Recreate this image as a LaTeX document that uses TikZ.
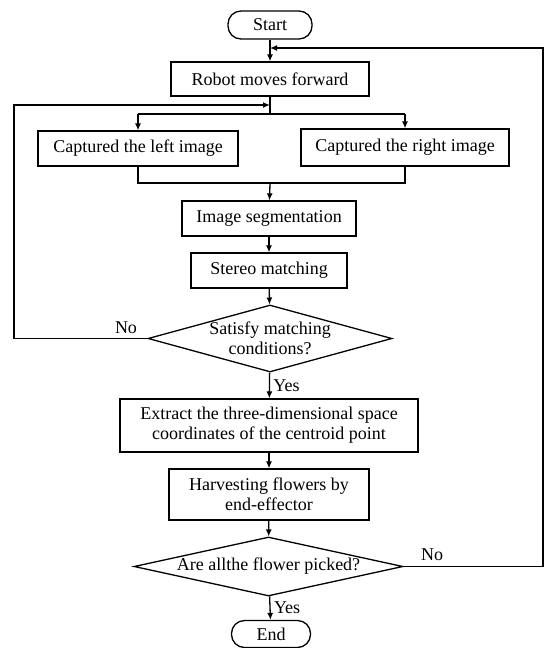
\documentclass[tikz,border=0pt]{standalone}
\usepackage{fontspec}
\setmainfont{Liberation Serif}
\usetikzlibrary{arrows.meta,shapes.geometric}

\tikzset{
    every node/.style={font=\fontsize{18}{20}\selectfont},
    stepbox/.style={draw, line width=1.3pt, rectangle, align=center, inner sep=2pt},
    termbox/.style={draw, line width=1.3pt, rectangle, rounded corners=13pt, minimum width=80pt, minimum height=27pt, inner sep=0pt},
    decision/.style={draw, line width=1.3pt, diamond, inner sep=0pt},
    flow/.style={line width=1.3pt, -{Latex[length=7pt,width=6pt]}},
    wire/.style={line width=1.3pt}
}

\begin{document}
\begin{tikzpicture}[x=1pt, y=-1pt]
    \useasboundingbox (0,0) rectangle (545,648);

    \node[termbox, minimum width=84pt, minimum height=28pt] (start) at (270,25) {Start};
    \node[stepbox, minimum width=198pt, minimum height=34pt] (robot) at (270,79) {Robot moves forward};
    \node[stepbox, minimum width=200pt, minimum height=35pt] (left) at (138,148.5) {Captured the left image};
    \node[stepbox, minimum width=208pt, minimum height=37pt] (right) at (405,147.5) {Captured the right image};
    \node[stepbox, minimum width=174pt, minimum height=35pt] (seg) at (269,218.5) {Image segmentation};
    \node[stepbox, minimum width=156pt, minimum height=35pt] (stereo) at (269,270.5) {Stereo matching};
    \node[decision, minimum width=244pt, minimum height=67pt,
        label={[align=center]center:Satisfy matching\\conditions?}] (match) at (270,338.5) {};
    \node[stepbox, minimum width=298pt, minimum height=53pt] (extract) at (269,425.5)
        {Extract the three-dimensional space\\coordinates of the centroid point};
    \node[stepbox, minimum width=200pt, minimum height=51pt] (harvest) at (269,494.5)
        {Harvesting flowers by\\end-effector};
    \node[decision, minimum width=269pt, minimum height=59pt,
        label={center:Are allthe flower picked?}] (picked) at (268.5,566.5) {};
    \node[termbox, minimum width=79pt] (end) at (271,634) {End};

    \coordinate (top) at (270,48);
    \coordinate (back) at (270,105);
    \coordinate (split) at (270,114);
    \coordinate (merge) at (270,183);

    \draw[wire] (start) -- (top);
    \draw[flow] (top) -- (robot);
    \draw[flow] (picked.east) -- (543,566.5) |- (top);
    \node at (432,555) {No};

    \draw[wire] (robot) -- (split);
    \draw[flow] (match.west) -- (14,338.5) |- (back);
    \node at (126,328) {No};
    \draw[wire] (left.north |- split) -- (right.north |- split);
    \draw[flow] (left.north |- split) -- (left.north);
    \draw[flow] (right.north |- split) -- (right.north);

    \draw[wire] (left.south) -- (left.south |- merge) -- (right.south |- merge) -- (right.south);
    \draw[flow] (merge) -- (seg);
    \draw[flow] (seg) -- (stereo);
    \draw[flow] (stereo) -- (match);
    \draw[flow] (match) -- node[right] {Yes} (extract);
    \draw[flow] (extract) -- (harvest);
    \draw[flow] (harvest) -- (picked);
    \draw[flow] (picked) -- node[right] {Yes} (end);

\end{tikzpicture}
\end{document}
